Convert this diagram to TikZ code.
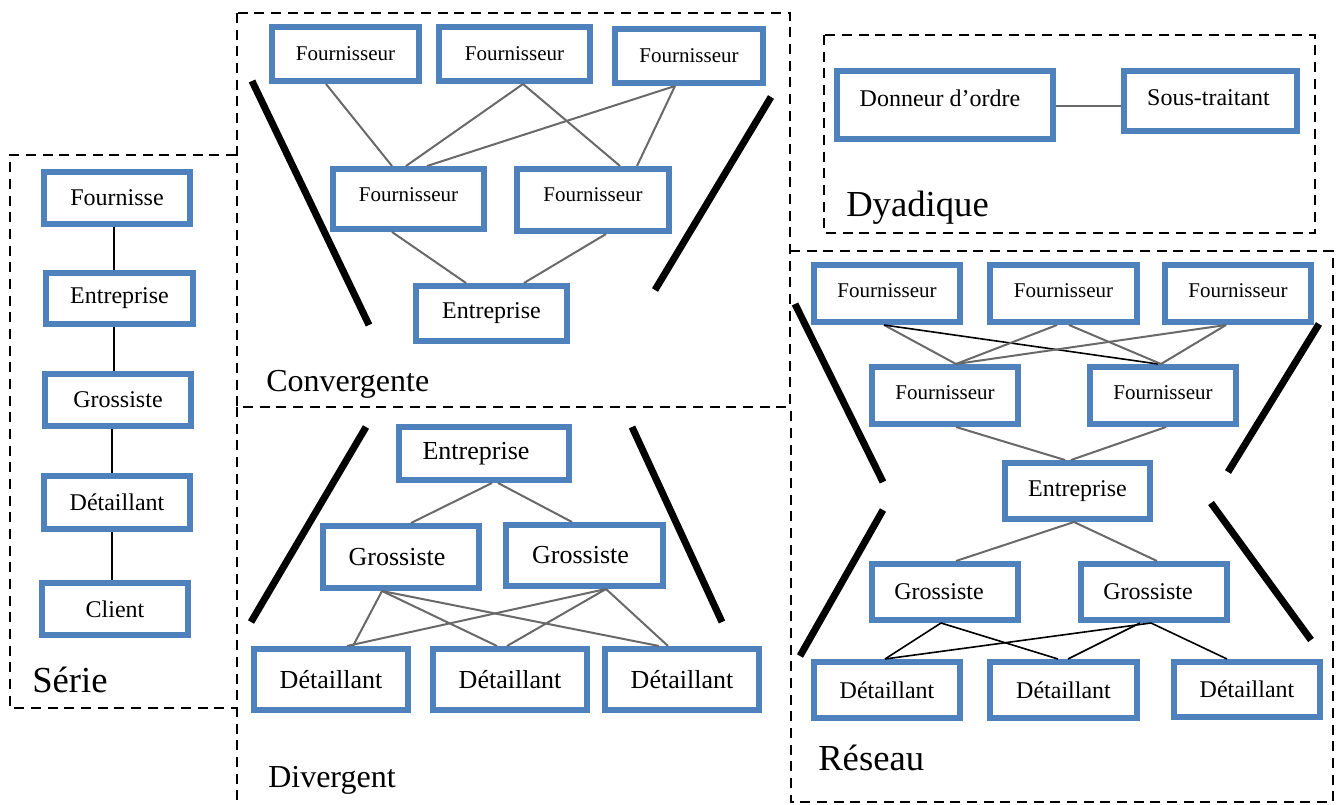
\documentclass[tikz,border=0pt]{standalone}
\usepackage{fontspec}
\setmainfont{Liberation Serif}
\usetikzlibrary{calc}
\definecolor{boxblue}{RGB}{79,129,189}
\definecolor{lingray}{RGB}{105,105,105}
\newcommand\mvT[3]{\hspace*{#1}\raisebox{#2}[\height][\depth]{#3}\hspace*{-#1}}
\begin{document}
\begin{tikzpicture}[x=0.75pt,y=-0.75pt,
  bx/.style 2 args={draw=boxblue, line width=4.5pt, fill=white, inner sep=0pt,
     minimum width=#1*0.75pt-4.5pt, minimum height=#2*0.75pt-4.5pt},
  fA/.style={font=\fontsize{15.75}{18}\selectfont},
  fB/.style={font=\fontsize{18}{20}\selectfont},
  fC/.style={font=\fontsize{19.5}{22}\selectfont},
  ttlA/.style={font=\fontsize{24}{28}\selectfont, anchor=base west, inner sep=0pt},
  ttlB/.style={font=\fontsize{27.5}{32}\selectfont, anchor=base west, inner sep=0pt},
  frm/.style={draw=black, line width=1.65pt, dash pattern=on 7.5pt off 5pt},
  cG/.style={draw=lingray, line width=1.5pt},
  cK/.style={draw=black, line width=1.2pt},
  bar/.style={draw=black, line width=5.25pt}
]
\useasboundingbox (0,0) rectangle (1336,805);

% ---------------- frames ----------------
\draw[frm] (236,155) -- (10,155) -- (10,708) -- (236,708);
\draw[frm] (237,13) rectangle (790,407);
\draw[frm] (237,407) -- (237,812);
\draw[frm] (824,35) rectangle (1315,233);
\draw[frm] (790,251) -- (1333,251) -- (1333,802) -- (791,802) -- (791,407);

% ---------------- Serie ----------------
\node[bx={152}{58}, fB] (S1) at (117,198) {Fournisse};
\node[bx={153}{57}, fB] (S2) at (119.5,298.5) {Entreprise};
\node[bx={152}{58}, fB] (S3) at (118,400) {Grossiste};
\node[bx={152}{59}, fB] (S4) at (117,502.5) {Détaillant};
\node[bx={152}{58}, fB] (S5) at (115,609) {Client};
\draw[cK] ($(S1.south)+(-3,0)$) -- ($(S2.north)+(-5.5,0)$);
\draw[cK] ($(S2.south)+(-5.5,0)$) -- ($(S3.north)+(-4,0)$);
\draw[cK] ($(S3.south)+(-6,0)$) -- ($(S4.north)+(-5,0)$);
\draw[cK] ($(S4.south)+(-5,0)$) -- ($(S5.north)+(-3,0)$);
\node[ttlB] (labS) at (32,692) {Série};

% ---------------- Convergente ----------------
\node[bx={153}{60}, fA] (C1) at (345.5,54) {Fournisseur};
\node[bx={157}{60}, fA] (C2) at (514.5,54) {Fournisseur};
\node[bx={154}{60}, fA] (C3) at (689,56) {Fournisseur};
\node[bx={157}{66}, fA] (C4) at (408.5,199) {\mvT{0pt}{3pt}{Fournisseur}};
\node[bx={158}{68}, fA] (C5) at (593,200) {\mvT{0pt}{3.75pt}{Fournisseur}};
\node[bx={157}{61}, fB] (C6) at (491.5,313.5) {Entreprise};
\draw[cG] ($(C1.south)+(-19.5,0)$) -- ($(C4.north)+(-16.5,0)$);
\draw[cG] ($(C2.south)+(8.5,0)$) -- ($(C4.north)+(-2.5,0)$);
\draw[cG] ($(C2.south)+(8.5,0)$) -- ($(C5.north)+(27,0)$);
\draw[cG] ($(C3.south)+(-14,0)$) -- ($(C4.north)+(18.5,0)$);
\draw[cG] ($(C3.south)+(-14,0)$) -- ($(C5.north)+(44,0)$);
\draw[cG] ($(C4.south)+(-16.5,0)$) -- ($(C6.north)+(-25.5,0)$);
\draw[cG] ($(C5.south)+(13,0)$) -- ($(C6.north)+(32.5,0)$);
\draw[bar] (252,81) -- (369,325);
\draw[bar] (771,97) -- (655,290);
\node[ttlA] (labC) at (266,392) {Convergente};

% ---------------- Divergent ----------------
\node[bx={176}{59}, fC] (D0) at (484,453.5) {\mvT{-6pt}{0pt}{Entreprise}};
\node[bx={162}{68}, fC] (G1) at (401,557) {\mvT{-3pt}{0pt}{Grossiste}};
\node[bx={163}{67}, fC] (G2) at (584.5,555.5) {\mvT{-3pt}{0pt}{Grossiste}};
\node[bx={160}{67}, fC] (T1) at (331,679.5) {Détaillant};
\node[bx={160}{67}, fC] (T2) at (510,679.5) {Détaillant};
\node[bx={160}{67}, fC] (T3) at (682,679.5) {Détaillant};
\draw[cG] ($(D0.south)+(8,0)$) -- ($(G1.north)+(10,0)$);
\draw[cG] ($(D0.south)+(14,0)$) -- ($(G2.north)+(-12.5,0)$);
\draw[cG] ($(G1.south)+(-19,0)$) -- ($(T1.north)+(22,0)$);
\draw[cG] ($(G1.south)+(-19,0)$) -- ($(T2.north)+(-13,0)$);
\draw[cG] ($(G1.south)+(-19,0)$) -- ($(T3.north)+(-23,0)$);
\draw[cG] ($(G2.south)+(21.5,0)$) -- ($(T1.north)+(16,0)$);
\draw[cG] ($(G2.south)+(21.5,0)$) -- ($(T2.north)+(-3,0)$);
\draw[cG] ($(G2.south)+(21.5,0)$) -- ($(T3.north)+(-14,0)$);
\draw[bar] (366,427) -- (251,622);
\draw[bar] (632,427) -- (722,622);
\node[ttlA] (labD) at (268,787) {Divergent};

% ---------------- Dyadique ----------------
\node[bx={222}{74}, fB] (Y1) at (945,105) {\mvT{-3.75pt}{5.25pt}{Donneur d’ordre}};
\node[bx={179}{66}, fB] (Y2) at (1210.5,101) {\mvT{-1.5pt}{2.25pt}{Sous-traitant}};
\draw[cG] ($(Y1.east)+(0,1)$) -- ($(Y2.west)+(0,5)$);
\node[ttlB] (labY) at (846,217) {Dyadique};

% ---------------- Reseau ----------------
\node[bx={152}{63}, fA] (R1) at (887,293.5) {\mvT{0pt}{2pt}{Fournisseur}};
\node[bx={153}{63}, fA] (R2) at (1063.5,293.5) {\mvT{0pt}{2pt}{Fournisseur}};
\node[bx={152}{63}, fA] (R3) at (1238,293.5) {\mvT{0pt}{2pt}{Fournisseur}};
\node[bx={152}{63}, fA] (R4) at (945,395.5) {\mvT{0pt}{2pt}{Fournisseur}};
\node[bx={152}{63}, fA] (R5) at (1163,395.5) {\mvT{0pt}{2pt}{Fournisseur}};
\node[bx={151}{62}, fB] (R6) at (1077.5,491) {Entreprise};
\node[bx={152}{62}, fB] (R7) at (945,592) {\mvT{-4.5pt}{0pt}{Grossiste}};
\node[bx={152}{62}, fB] (R8) at (1154,592) {\mvT{-4.5pt}{0pt}{Grossiste}};
\node[bx={152}{62}, fB] (R9) at (887,690) {Détaillant};
\node[bx={153}{62}, fB] (R10) at (1063.5,690) {Détaillant};
\node[bx={152}{61}, fB] (R11) at (1247,689.5) {Détaillant};
\draw[cG] ($(R1.south)+(-3,0)$) -- ($(R4.north)+(11,0)$);
\draw[cK] ($(R1.south)+(-3,0)$) -- ($(R5.north)+(-5,0)$);
\draw[cG] ($(R2.south)+(-6.5,0)$) -- ($(R4.north)+(11,0)$);
\draw[cG] ($(R2.south)+(5.5,0)$) -- ($(R5.north)+(-2,0)$);
\draw[cG] ($(R3.south)+(-12,0)$) -- ($(R4.north)+(11,0)$);
\draw[cG] ($(R3.south)+(-12,0)$) -- ($(R5.north)+(-2,0)$);
\draw[cG] ($(R4.south)+(11,0)$) -- ($(R6.north)+(-12.5,0)$);
\draw[cG] ($(R5.south)+(3,0)$) -- ($(R6.north)+(-6.5,0)$);
\draw[cG] ($(R6.south)+(-3.5,0)$) -- ($(R7.north)+(11,0)$);
\draw[cG] ($(R6.south)+(-3.5,0)$) -- ($(R8.north)+(3,0)$);
\draw[cK] ($(R7.south)+(-4,0)$) -- ($(R9.north)+(-2,0)$);
\draw[cK] ($(R7.south)+(-4,0)$) -- ($(R10.north)+(-5.5,0)$);
\draw[cK] ($(R8.south)+(-3,0)$) -- ($(R9.north)+(-2,0)$);
\draw[cK] ($(R8.south)+(-14,0)$) -- ($(R10.north)+(4.5,0)$);
\draw[cK] ($(R8.south)+(-3,0)$) -- ($(R11.north)+(-20,0)$);
\draw[bar] (795,304) -- (883,482);
\draw[bar] (883,510) -- (800,656);
\draw[bar] (1319,324) -- (1228,472);
\draw[bar] (1211,503) -- (1311,640);
\node[ttlB] (labR) at (818,770) {Réseau};
\end{tikzpicture}
\end{document}
